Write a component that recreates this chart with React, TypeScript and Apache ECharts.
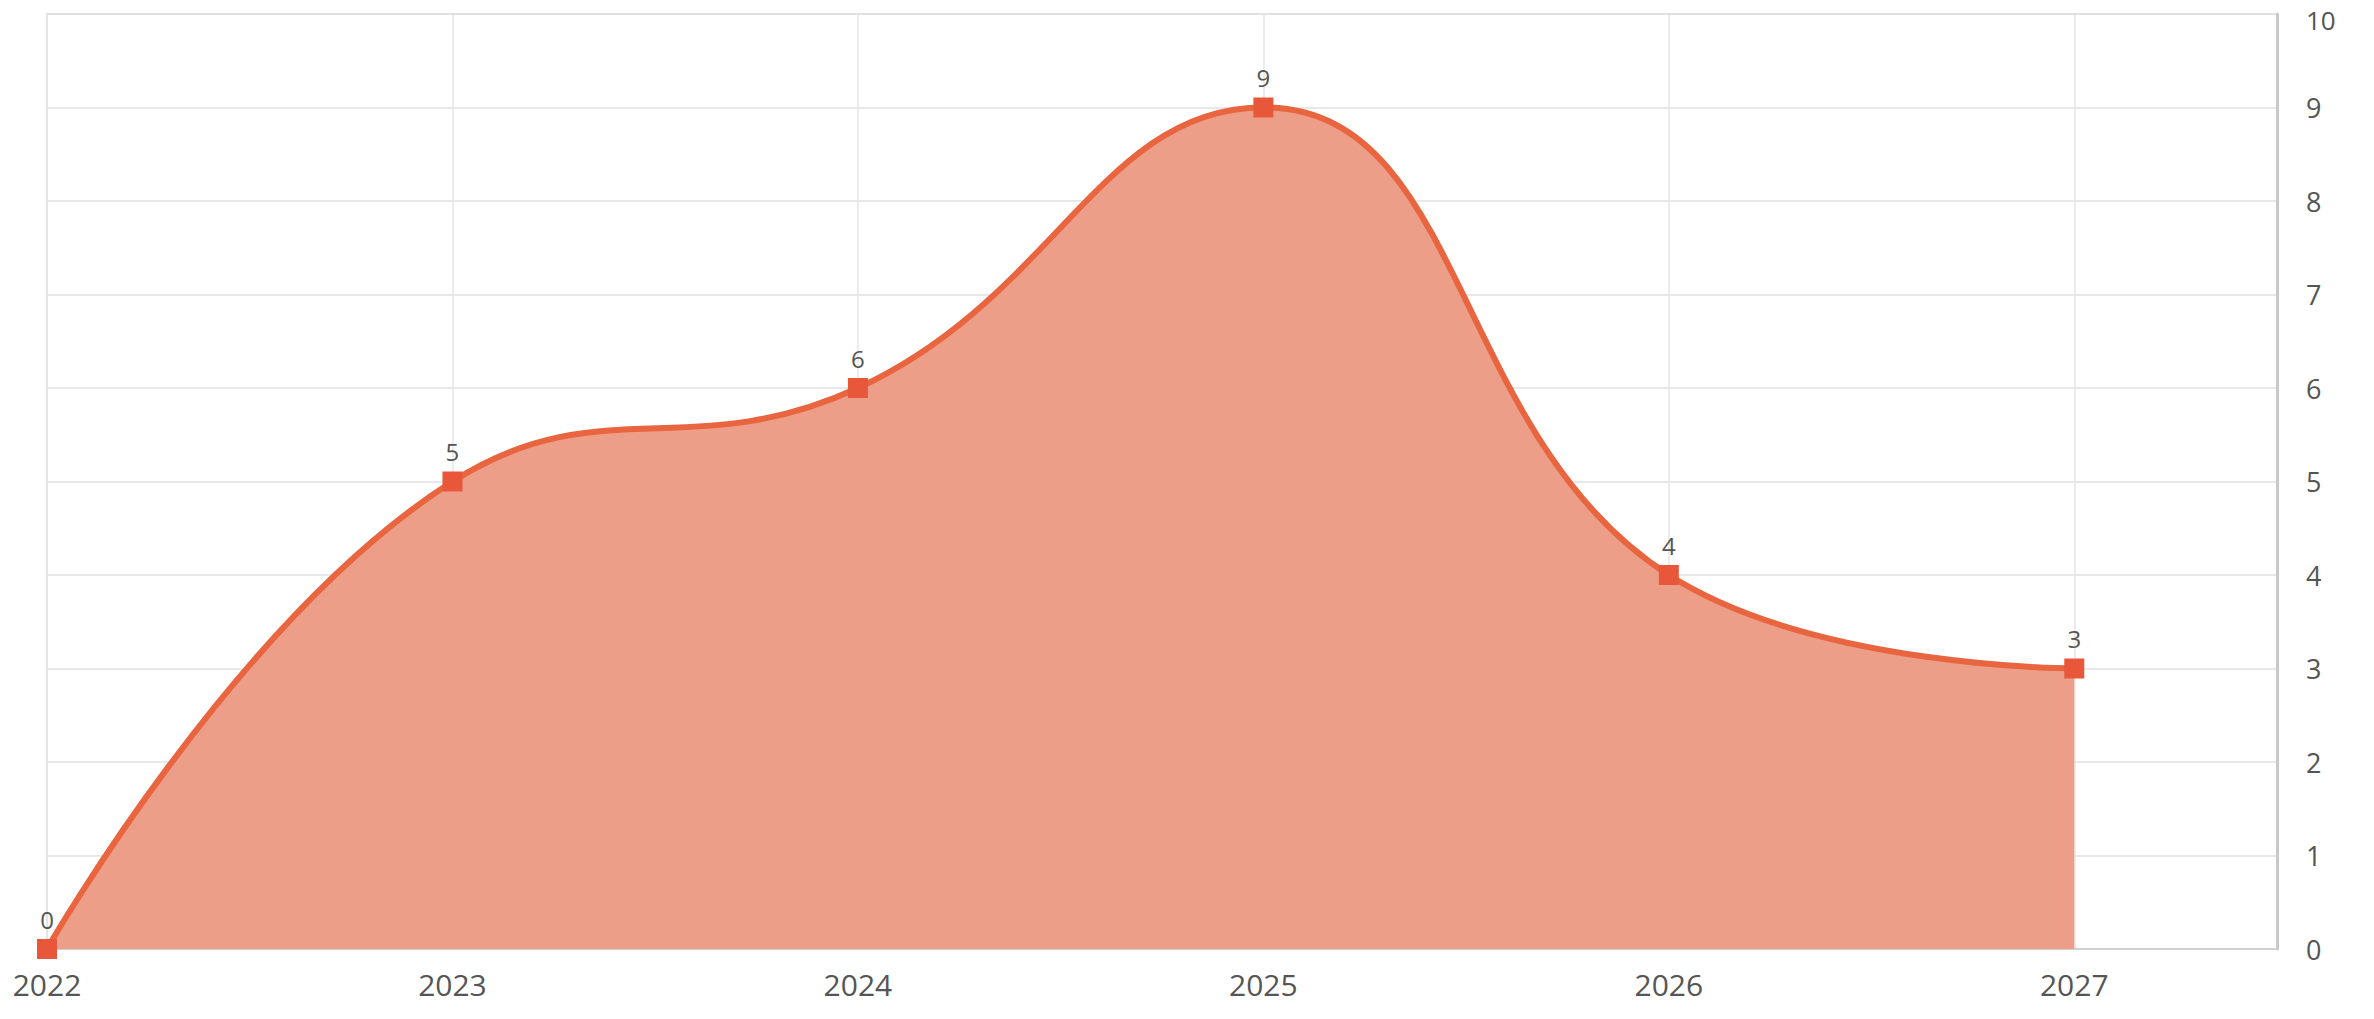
import React, { useEffect, useRef } from "react";
import * as echarts from "echarts";

const years = [2022, 2023, 2024, 2025, 2026, 2027];
const values = [0, 5, 6, 9, 4, 3];
const yTicks = { min: 0, max: 10, interval: 1 };

export default function App() {
  const ref = useRef<HTMLDivElement>(null);
  useEffect(() => {
    document.body.style.margin = "0";
    const chart = echarts.init(ref.current!, null, { renderer: "svg" });
    const textStyle = { fontFamily: "Open Sans", color: "#555" };
    chart.setOption({
      animation: false,
      grid: {
        left: 47,
        top: 14,
        right: 97,
        bottom: 70,
        show: true,
        borderColor: "#e2e2e2",
        borderWidth: 2,
        outerBoundsMode: "none",
      },
      xAxis: {
        type: "value",
        min: 2022,
        max: 2027.5,
        interval: 1,
        axisLine: { show: true, lineStyle: { color: "#d0d0d0", width: 2 } },
        axisTick: { show: false },
        splitLine: { show: true, lineStyle: { color: "#e6e6e6", width: 1.5 } },
        axisLabel: {
          ...textStyle,
          fontSize: 30,
          margin: 20,
          formatter: (v: number) => (Number.isInteger(v) ? String(v) : ""),
          showMaxLabel: false,
        },
      },
      yAxis: {
        type: "value",
        position: "right",
        min: yTicks.min,
        max: yTicks.max,
        interval: yTicks.interval,
        axisLine: { show: true, lineStyle: { color: "#c8c8c8", width: 3 } },
        axisTick: { show: false },
        splitLine: { show: true, lineStyle: { color: "#e0e0e0", width: 1.5 } },
        axisLabel: {
          ...textStyle,
          fontSize: 27,
          margin: 29,
          formatter: (v: number) => (v === yTicks.max ? `{t|${v}}` : String(v)),
          rich: {
            t: { ...textStyle, fontSize: 26, lineHeight: 24, padding: [12, 0, 0, 0] },
          },
        },
      },
      series: [
        {
          type: "line",
          data: years.map((y, i) => [y, values[i]]),
          smooth: 0.45,
          clip: false,
          symbol: "rect",
          symbolSize: 20,
          itemStyle: { color: "#E8573A" },
          lineStyle: { color: "#E8653F", width: 6 },
          areaStyle: { color: "#EC9E89", opacity: 1 },
          label: {
            show: true,
            position: "top",
            distance: 8,
            fontFamily: "Open Sans",
            fontSize: 24,
            color: "#555",
          },
        },
      ],
    });
    return () => chart.dispose();
  }, []);
  return (
    <div
      ref={ref}
      style={{ position: "absolute", left: 0, top: 0, width: 2374, height: 1019, background: "#fff" }}
    />
  );
}
